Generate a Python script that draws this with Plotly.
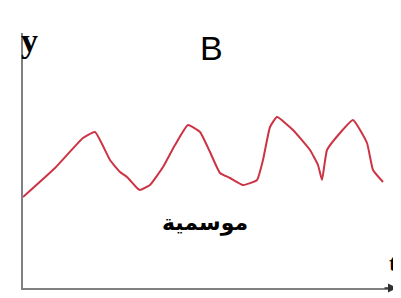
import plotly.graph_objects as go

# time values and series values
t_vals = [0, 32, 60, 72, 87, 97, 104, 114, 117, 127, 140, 152, 165, 177, 187, 197, 207, 220, 234,
          240, 247, 254, 270, 287, 295, 299, 304, 317, 330, 344, 350, 360]
y_vals = [91, 120, 150, 156, 128, 116, 111, 100, 98, 103, 121, 143, 163, 156, 136, 115, 110, 103, 108,
          128, 161, 171, 158, 138, 123, 108, 138, 155, 168, 145, 118, 106]

title_text = "B"
label_text = "موسمية"
x_label = "t"
y_label = "y"

fig = go.Figure()
fig.add_trace(go.Scatter(x=t_vals, y=y_vals, mode="lines",
                         line=dict(color="#cc3344", width=2, shape="spline", smoothing=0.4),
                         showlegend=False, hoverinfo="skip"))

# page body adds an 8px offset, so the figure is sized/margined to compensate
fig.update_layout(
    width=393, height=290,
    margin=dict(l=15, r=4, t=25, b=10),
    paper_bgcolor="white", plot_bgcolor="white",
    xaxis=dict(range=[0, 374], showgrid=False, zeroline=False, showticklabels=False,
               showline=True, linecolor="#808080", linewidth=2, ticks=""),
    yaxis=dict(range=[0, 255], showgrid=False, zeroline=False, showticklabels=False,
               showline=True, linecolor="#808080", linewidth=2, ticks=""),
)

fig.add_annotation(x=188, y=240, xref="x", yref="y", text=title_text, showarrow=False,
                   font=dict(family="Liberation Sans", size=34, color="black"))
fig.add_annotation(x=182, y=65, xref="x", yref="y", text="<b>" + label_text + "</b>", showarrow=False,
                   font=dict(family="DejaVu Sans", size=22, color="black"))
fig.add_annotation(x=-0.011, y=1.051, xref="paper", yref="paper", text="<b>" + y_label + "</b>",
                   showarrow=False, font=dict(family="Liberation Serif", size=34, color="black"))
fig.add_annotation(x=1.002, y=0.045, xref="paper", yref="paper", xanchor="right",
                   text="<b>" + x_label + "</b>", showarrow=False, borderpad=0,
                   font=dict(family="Liberation Serif", size=24, color="black"))
# arrow head at end of t axis
fig.add_annotation(x=374, y=0, ax=360, ay=0, xref="x", yref="y", axref="x", ayref="y",
                   text="", showarrow=True, arrowhead=2, arrowsize=1.2, arrowwidth=1.5,
                   arrowcolor="#303030")

fig.write_html("out.html")
